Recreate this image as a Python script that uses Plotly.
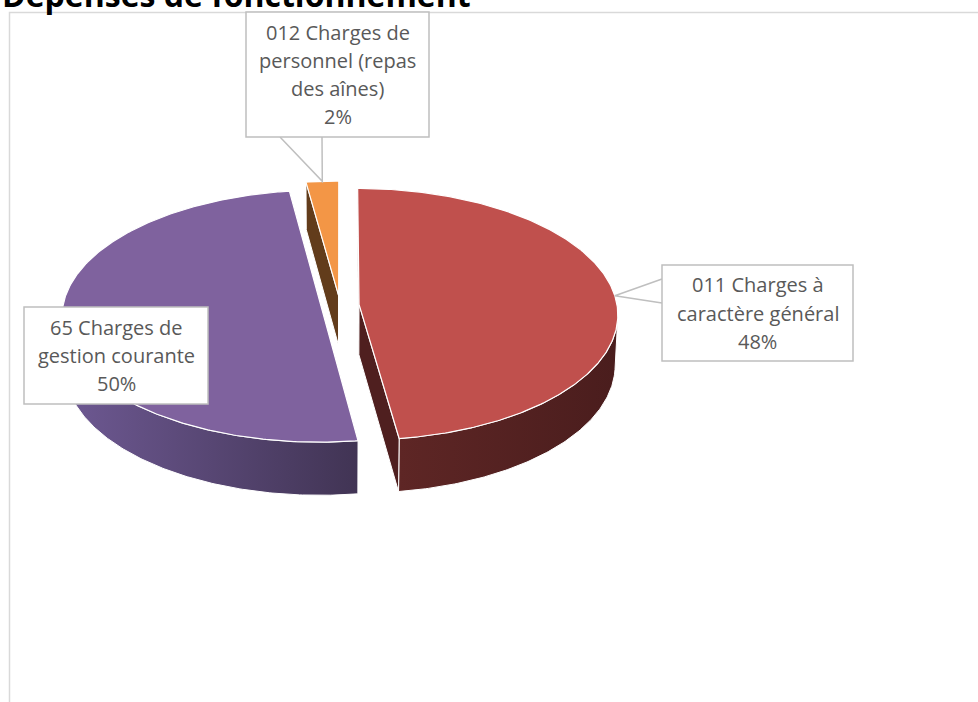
import numpy as np
import plotly.graph_objects as go

# ---------------- data ----------------
categories = ["011 Charges à caractère général",
              "65 Charges de gestion courante",
              "012 Charges de personnel (repas des aînes)"]
label_lines = [["011 Charges à", "caractère général"],
               ["65 Charges de", "gestion courante"],
               ["012 Charges de", "personnel (repas", "des aînes)"]]
values = [47.8, 50.0, 2.2]

# ---------------- style ----------------
top_colors = ["#C0504D", "#7F629E", "#F39646"]
wall_grad = [("#5E2625", "#4A1D1D"), ("#6E5993", "#413454"), ("#6A421E", "#5A3616")]
radial_colors = ["#4F1F1F", "#5B4777", "#623C1B"]

CX, CY = 340.0, 305.0      # screen centre of the un-exploded pie
K = 258.0                  # px per radius
ELEV = np.radians(29)
DIST = 11.2
H = 0.225
PULL = 0.074


def proj(X, Y, Z):
    X = np.asarray(X, float); Y = np.asarray(Y, float); Z = np.asarray(Z, float)
    d = DIST - Y * np.sin(ELEV) - Z * np.cos(ELEV)
    v = Y * np.cos(ELEV) - Z * np.sin(ELEV)
    return CX + K * X * DIST / d, CY - K * v * DIST / d


cam = np.array([0.0, DIST * np.sin(ELEV), DIST * np.cos(ELEV)])


def facing(P, n):
    return float(np.dot(cam - P, n)) > 0


total = float(sum(values))
walls, tops, pointers = [], [], []
start = 0.0
for i, v in enumerate(values):
    span = v / total * 2 * np.pi
    a1, a2 = start, start + span
    bis = (a1 + a2) / 2
    ox, oz = PULL * np.sin(bis), -PULL * np.cos(bis)
    phi = np.linspace(a1, a2, max(8, int(span / 0.01)))
    ax_ = ox + np.sin(phi)
    az_ = oz - np.cos(phi)
    # top face
    tx, ty = proj(np.r_[ox, ax_, ox], np.zeros(len(phi) + 2), np.r_[oz, az_, oz])
    tops.append((tx, ty, top_colors[i]))
    # outer wall (visible part)
    vis = []
    for p, x_, z_ in zip(phi, ax_, az_):
        n = np.array([np.sin(p), 0, -np.cos(p)])
        vis.append(facing(np.array([x_, -H / 2, z_]), n))
    vis = np.array(vis)
    if vis.any():
        idx = np.where(vis)[0]
        runs = np.split(idx, np.where(np.diff(idx) != 1)[0] + 1)
        for r in runs:
            X = np.r_[ax_[r], ax_[r][::-1], ax_[r][0]]
            Y = np.r_[np.zeros(len(r)), -H * np.ones(len(r)), 0]
            Z = np.r_[az_[r], az_[r][::-1], az_[r][0]]
            wx, wy = proj(X, Y, Z)
            depth = np.max(np.cos(ELEV) * Z)
            walls.append((depth, wx, wy, "grad", i))
    # radial walls
    for a, sgn in ((a1, -1), (a2, 1)):
        na = a + sgn * np.pi / 2
        n = np.array([np.sin(na), 0, -np.cos(na)])
        rx, rz = ox + np.sin(a), oz - np.cos(a)
        mid = np.array([(ox + rx) / 2, -H / 2, (oz + rz) / 2])
        if facing(mid, n):
            X = [ox, rx, rx, ox, ox]
            Y = [0, 0, -H, -H, 0]
            Z = [oz, rz, rz, oz, oz]
            wx, wy = proj(X, Y, Z)
            walls.append((max(np.cos(ELEV) * np.array(Z)), wx, wy, "flat", i))
    # pointer target: rim point at the bisector
    px, py = proj(ox + np.sin(bis), 0.0, oz - np.cos(bis))
    pointers.append((float(px), float(py)))
    start = a2

fig = go.Figure()
for depth, wx, wy, kind, i in sorted(walls, key=lambda w: w[0]):
    if kind == "grad":
        fig.add_trace(go.Scatter(
            x=wx, y=wy, mode="lines", fill="toself",
            fillgradient=dict(type="horizontal",
                              colorscale=[[0, wall_grad[i][0]], [1, wall_grad[i][1]]]),
            line=dict(color="white", width=1), hoverinfo="skip", showlegend=False))
    else:
        fig.add_trace(go.Scatter(
            x=wx, y=wy, mode="lines", fill="toself", fillcolor=radial_colors[i],
            line=dict(color="white", width=1), hoverinfo="skip", showlegend=False))
for tx, ty, c in tops:
    fig.add_trace(go.Scatter(
        x=tx, y=ty, mode="lines", fill="toself", fillcolor=c,
        line=dict(color="white", width=1.2), hoverinfo="skip", showlegend=False))

# ---------------- labels ----------------
pcts = [f"{round(v / total * 100):d}%" for v in values]
boxes = [(662, 853, 265, 361), (24, 208, 307, 404), (246, 429, 12, 137)]
line_h = 28.3
shapes = [dict(type="rect", xref="x", yref="y", x0=9.5, x1=990, y0=12.5, y1=720,
               line=dict(color="#D9D9D9", width=1.5), layer="below")]
annotations = [dict(text="<b>Dépenses de fonctionnement</b>", x=0, y=18,
                    xref="x", yref="y", xanchor="left", yanchor="bottom",
                    showarrow=False,
                    font=dict(family="Open Sans", size=32, color="#000000"))]
for i, (x0, x1, y0, y1) in enumerate(boxes):
    lines = label_lines[i] + [pcts[i]]
    cxb = (x0 + x1) / 2
    cyb = (y0 + y1) / 2
    n = len(lines)
    for k, t in enumerate(lines):
        annotations.append(dict(text=t, x=cxb, y=cyb + (k - (n - 1) / 2) * line_h,
                                xref="x", yref="y", xanchor="center", yanchor="middle",
                                showarrow=False,
                                font=dict(family="Open Sans", size=20, color="#595959")))

# callout wedges
px, py = pointers[0]
shapes.append(dict(type="path", xref="x", yref="y",
                   path=f"M 662,279 L {px:.1f},{py:.1f} L 662,303",
                   line=dict(color="#BFBFBF", width=1.5)))
px, py = pointers[2]
shapes.append(dict(type="path", xref="x", yref="y",
                   path=f"M 280,137 L {px:.1f},{py:.1f} L 322,137",
                   line=dict(color="#BFBFBF", width=1.5)))
for (x0, x1, y0, y1) in boxes:
    shapes.append(dict(type="rect", xref="x", yref="y", x0=x0, x1=x1, y0=y0, y1=y1,
                       line=dict(color="#BFBFBF", width=1.5), fillcolor="white",
                       layer="above"))

fig.update_layout(
    width=978, height=702, margin=dict(l=0, r=0, t=0, b=0),
    paper_bgcolor="white", plot_bgcolor="white",
    xaxis=dict(range=[0, 978], visible=False, fixedrange=True),
    yaxis=dict(range=[702, 0], visible=False, fixedrange=True),
    shapes=shapes, annotations=annotations, showlegend=False,
)

fig.write_html("out.html", config={"displayModeBar": False},
               post_script="document.body.style.margin='0';")
